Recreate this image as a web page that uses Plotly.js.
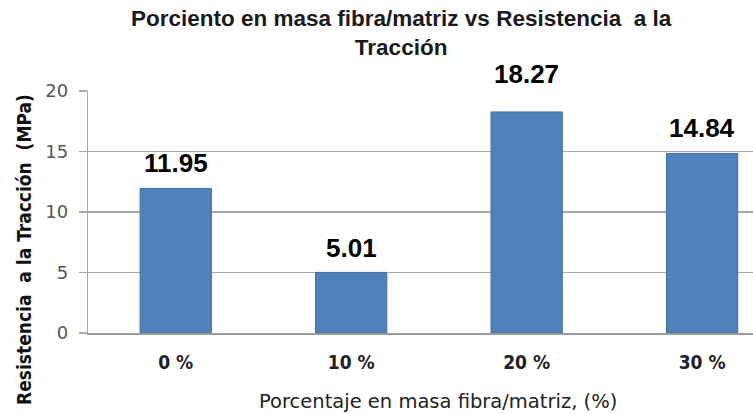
<!DOCTYPE html>
<html><head><meta charset="utf-8">
<script src="https://cdn.plot.ly/plotly-3.0.1.min.js"></script>
<style>html,body{margin:0;padding:0;background:#fff}#c{width:753px;height:414px}</style>
</head><body><div id="c"></div>
<script>
const categories = ["0 %", "10 %", "20 %", "30 %"];
const values = [11.95, 5.01, 18.27, 14.84];
const valueLabels = ["11.95", "5.01", "18.27", "14.84"];
const yTicks = [0, 5, 10, 15, 20];
const titleLines = ["Porciento en masa fibra/matriz vs Resistencia  a la", "Tracción"];
const xTitle = "Porcentaje en masa fibra/matriz, (%)";
const yTitle = "Resistencia  a la Tracción  (MPa)";

// label placement styling (pixels above bar top)
const labelShift = [25, 24, 38, 25];
const labelBg = ["rgba(0,0,0,0)", "rgba(0,0,0,0)", "#ffffff", "rgba(0,0,0,0)"];
const plotTop = 91, plotBottom = 333, plotLeft = 88, plotWidth = 665;
const titleCenterPx = 33;

const xIdx = categories.map((_, i) => i);

const trace = {
  type: "bar",
  x: xIdx,
  y: values,
  width: 0.406,
  marker: {color: "#4F81BD", line: {color: "#3D6DA3", width: 1}},
  hoverinfo: "none"
};

const labelAnns = values.map((v, i) => ({
  x: xIdx[i], y: v, xref: "x", yref: "y",
  text: "<b>" + valueLabels[i] + "</b>",
  showarrow: false, yanchor: "middle", xanchor: "center",
  yshift: labelShift[i],
  bgcolor: labelBg[i], borderpad: 1,
  font: {family: "Liberation Sans, Arial, sans-serif", size: 26, color: "#000"}
}));

const titleAnn = {
  text: "<b>" + titleLines.join("<br>") + "</b>",
  xref: "paper", yref: "paper",
  x: (401 - plotLeft) / plotWidth,
  y: (plotBottom - titleCenterPx) / (plotBottom - plotTop),
  xanchor: "center", yanchor: "middle", showarrow: false,
  font: {family: "Liberation Sans, Arial, sans-serif", size: 22.5, color: "#1a1a1a"}
};

const layout = {
  width: 753, height: 414,
  margin: {l: plotLeft, r: 0, t: plotTop, b: 414 - plotBottom},
  paper_bgcolor: "#fff", plot_bgcolor: "#fff",
  showlegend: false,
  xaxis: {
    range: [-0.5, 3.29],
    tickvals: xIdx,
    ticktext: categories,
    showgrid: false,
    zeroline: false,
    showline: true, linecolor: "#9A9A9A", linewidth: 2,
    ticks: "",
    ticklabelstandoff: 11,
    tickfont: {family: "DejaVu Sans Condensed, DejaVu Sans, sans-serif", size: 19, color: "#222", weight: "bold"}
  },
  yaxis: {
    range: [0, 20],
    tickvals: yTicks,
    ticktext: yTicks.map(String),
    showgrid: true, gridcolor: "#A8A8A8", gridwidth: 1.3,
    zeroline: false,
    showline: true, linecolor: "#A8A8A8", linewidth: 1.3,
    ticks: "outside", ticklen: 8, tickcolor: "#A8A8A8", tickwidth: 1.3,
    ticklabelstandoff: 7,
    tickfont: {family: "DejaVu Sans, sans-serif", size: 18, color: "#555"}
  },
  annotations: labelAnns.concat([titleAnn,
    {
      text: xTitle,
      xref: "paper", yref: "paper", x: (438 - plotLeft) / plotWidth, y: -0.285,
      xanchor: "center", yanchor: "middle", showarrow: false,
      font: {family: "DejaVu Sans, sans-serif", size: 19.5, color: "#222"}
    },
    {
      text: "<b>" + yTitle + "</b>",
      xref: "paper", yref: "paper", x: 0, y: 0.343,
      xshift: -64, textangle: -90,
      xanchor: "center", yanchor: "middle", showarrow: false,
      font: {family: "DejaVu Sans Condensed, DejaVu Sans, sans-serif", size: 19, color: "#111"}
    }
  ])
};

Plotly.newPlot("c", [trace], layout, {displayModeBar: false, staticPlot: true});
</script></body></html>
